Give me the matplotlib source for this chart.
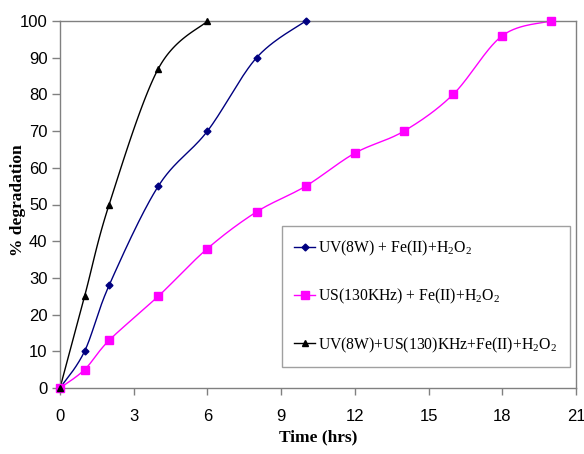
import numpy as np
import matplotlib as mpl
mpl.use('Agg')
import matplotlib.pyplot as plt
from matplotlib.lines import Line2D

mpl.rcParams['mathtext.fontset'] = 'custom'
mpl.rcParams['mathtext.rm'] = 'Liberation Serif'

# data
t_uv = [0, 1, 2, 4, 6, 8, 10]
deg_uv = [0, 10, 28, 55, 70, 90, 100]
t_us = [0, 1, 2, 4, 6, 8, 10, 12, 14, 16, 18, 20]
deg_us = [0, 5, 13, 25, 38, 48, 55, 64, 70, 80, 96, 100]
t_mix = [0, 1, 2, 4, 6]
deg_mix = [0, 25, 50, 87, 100]
labels = ['UV(8W) + Fe(II)+H$_2$O$_2$',
          'US(130KHz) + Fe(II)+H$_2$O$_2$',
          'UV(8W)+US(130)KHz+Fe(II)+H$_2$O$_2$']
xticks = [0, 3, 6, 9, 12, 15, 18, 21]
yticks = list(range(0, 101, 10))


def smooth(x, y, n=30):
    # excel-like smoothed line (catmull-rom style bezier)
    x = np.asarray(x, float)
    y = np.asarray(y, float)
    px = np.concatenate([[x[0]], x, [x[-1]]])
    py = np.concatenate([[y[0]], y, [y[-1]]])
    xs, ys = [], []
    for i in range(1, len(px) - 2):
        p0 = np.array([px[i - 1], py[i - 1]])
        p1 = np.array([px[i], py[i]])
        p2 = np.array([px[i + 1], py[i + 1]])
        p3 = np.array([px[i + 2], py[i + 2]])
        c1 = p1 + (p2 - p0) / 6.0
        c2 = p2 - (p3 - p1) / 6.0
        s = np.linspace(0, 1, n)[:, None]
        b = ((1 - s) ** 3) * p1 + 3 * ((1 - s) ** 2) * s * c1 + 3 * (1 - s) * s ** 2 * c2 + s ** 3 * p2
        xs.extend(b[:, 0])
        ys.extend(b[:, 1])
    return xs, ys


fig = plt.figure(figsize=(5.84, 4.54), dpi=100)
ax = fig.add_axes([60 / 584, 1 - 388 / 454, 516 / 584, 367 / 454])

series = [
    (t_uv, deg_uv, '#000080', 'D', 3.5),
    (t_us, deg_us, '#FF00FF', 's', 5.5),
    (t_mix, deg_mix, 'black', '^', 5),
]
handles = []
for (x, y, c, m, ms), lab in zip(series, labels):
    sx, sy = smooth(x, y)
    ax.plot(sx, sy, color=c, lw=1, zorder=2)
    ax.plot(x, y, ls='none', marker=m, ms=ms, color=c, mec=c, zorder=3, clip_on=False)
    handles.append(Line2D([], [], color=c, lw=1, marker=m, ms=ms, mec=c, label=lab))

ax.set_xlim(0, 21)
ax.set_ylim(0, 100)
ax.set_xticks(xticks)
ax.set_yticks(yticks)
for sp in ax.spines.values():
    sp.set_color('#808080')
    sp.set_linewidth(1)
ax.tick_params(axis='both', direction='out', color='#808080', width=1, labelsize=12)
ax.tick_params(axis='x', length=5, pad=10)
ax.tick_params(axis='y', length=6, pad=3)
for lb in ax.get_xticklabels() + ax.get_yticklabels():
    lb.set_family('Liberation Sans')

ax.set_xlabel('Time (hrs)', family='Liberation Serif', fontweight='bold', fontsize=12.5, labelpad=4)
ax.set_ylabel('% degradation', family='Liberation Serif', fontweight='bold', fontsize=12.5)
ax.yaxis.set_label_coords(-0.066, 0.512)

leg = ax.legend(handles=handles, loc='lower left', bbox_to_anchor=(0.430, 0.057),
                borderaxespad=0, fancybox=False, framealpha=1, edgecolor='#a0a0a0',
                prop={'family': 'Liberation Serif', 'size': 11.3}, handlelength=1.3,
                handletextpad=0.2, labelspacing=1.85, borderpad=0.8)
leg.get_frame().set_linewidth(1)

fig.savefig('out.png', dpi=100)
